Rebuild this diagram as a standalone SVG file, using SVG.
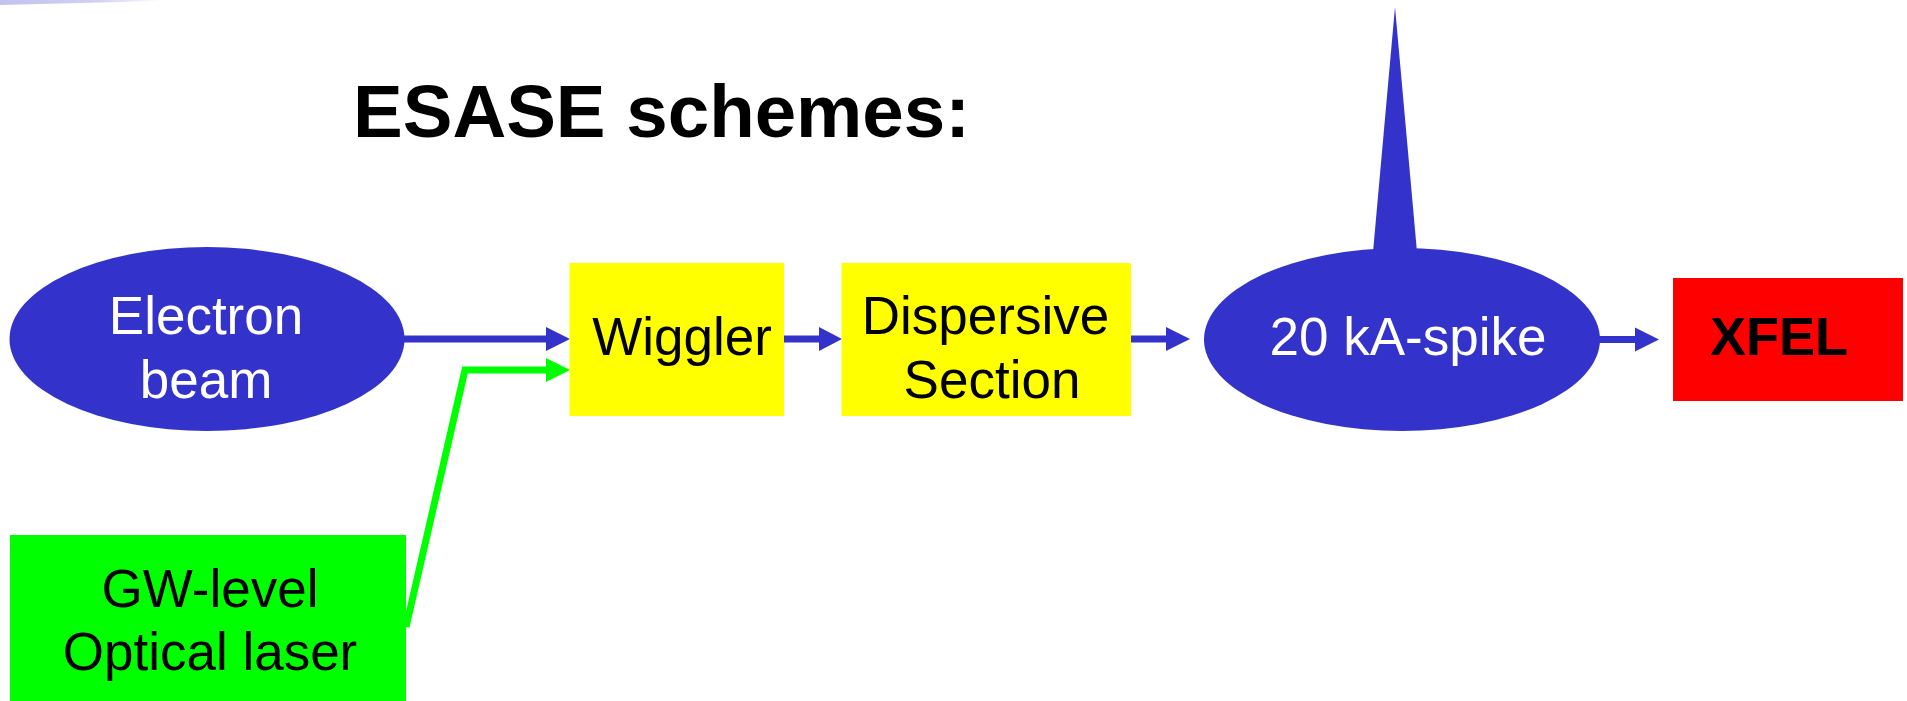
<svg xmlns="http://www.w3.org/2000/svg" width="1907" height="701" viewBox="0 0 1907 701">
<style>
.lbl{font-family:"Liberation Sans",Arial,sans-serif;font-size:53px;text-anchor:middle}
.w{fill:#ffffff}
.k{fill:#000000}
.blue{fill:#3333CC}
.bl{stroke:#3333CC;stroke-width:7;fill:none}
.gl{stroke:#00FF00;stroke-width:7;fill:none}
</style>
<defs>
<linearGradient id="bar" x1="0" y1="0" x2="1" y2="0">
<stop offset="0" stop-color="#c2c2ee"/>
<stop offset="0.6" stop-color="#d0d0f3"/>
<stop offset="1" stop-color="#ffffff"/>
</linearGradient>
</defs>
<rect width="1907" height="701" fill="#ffffff"/>
<polygon points="0,0 162,0 162,1 0,5" fill="url(#bar)"/>
<text x="353" y="137" style="font-family:'Liberation Sans',Arial,sans-serif;font-size:74.5px;font-weight:bold" fill="#000">ESASE schemes:</text>

<g id="connectors">
<line class="bl" x1="404" y1="339" x2="548" y2="339"/>
<polygon class="blue" points="546,327 570,339 546,351"/>
<polyline class="gl" points="406,627 465,370 548,370"/>
<polygon fill="#00FF00" points="546,358 570,370 546,382"/>
<line class="bl" x1="783" y1="339" x2="821" y2="339"/>
<polygon class="blue" points="819,327 842,339 819,351"/>
<line class="bl" x1="1130" y1="339" x2="1168" y2="339"/>
<polygon class="blue" points="1166,327 1190,339 1166,351"/>
<line class="bl" x1="1599" y1="339.5" x2="1637" y2="339.5"/>
<polygon class="blue" points="1635,327.5 1659,339.5 1635,351.5"/>
</g>

<g id="electron-beam">
<ellipse class="blue" cx="207" cy="339" rx="197.5" ry="92"/>
<text class="lbl w" x="206" y="334">Electron</text>
<text class="lbl w" x="206" y="398">beam</text>
</g>

<g id="laser">
<rect x="10" y="535" width="396" height="166" fill="#00FF00"/>
<text class="lbl k" x="210" y="607">GW-level</text>
<text class="lbl k" x="210" y="670">Optical laser</text>
</g>

<g id="wiggler">
<rect x="569.5" y="263" width="214.5" height="153" fill="#FFFF00"/>
<text class="lbl k" x="682" y="355">Wiggler</text>
</g>

<g id="dispersive">
<rect x="841.5" y="263" width="289.5" height="153" fill="#FFFF00"/>
<text class="lbl k" x="985.5" y="334">Dispersive</text>
<text class="lbl k" x="992" y="398">Section</text>
</g>

<g id="spike">
<polygon class="blue" points="1373,252 1395,7 1417,252"/>
<ellipse class="blue" cx="1402" cy="339.5" rx="198" ry="91.5"/>
<text class="lbl w" x="1408" y="355">20 kA-spike</text>
</g>

<g id="xfel">
<rect x="1673" y="278" width="230" height="123" fill="#FF0000"/>
<text class="lbl k" x="1779" y="355" style="font-weight:bold;font-size:54px">XFEL</text>
</g>
</svg>
